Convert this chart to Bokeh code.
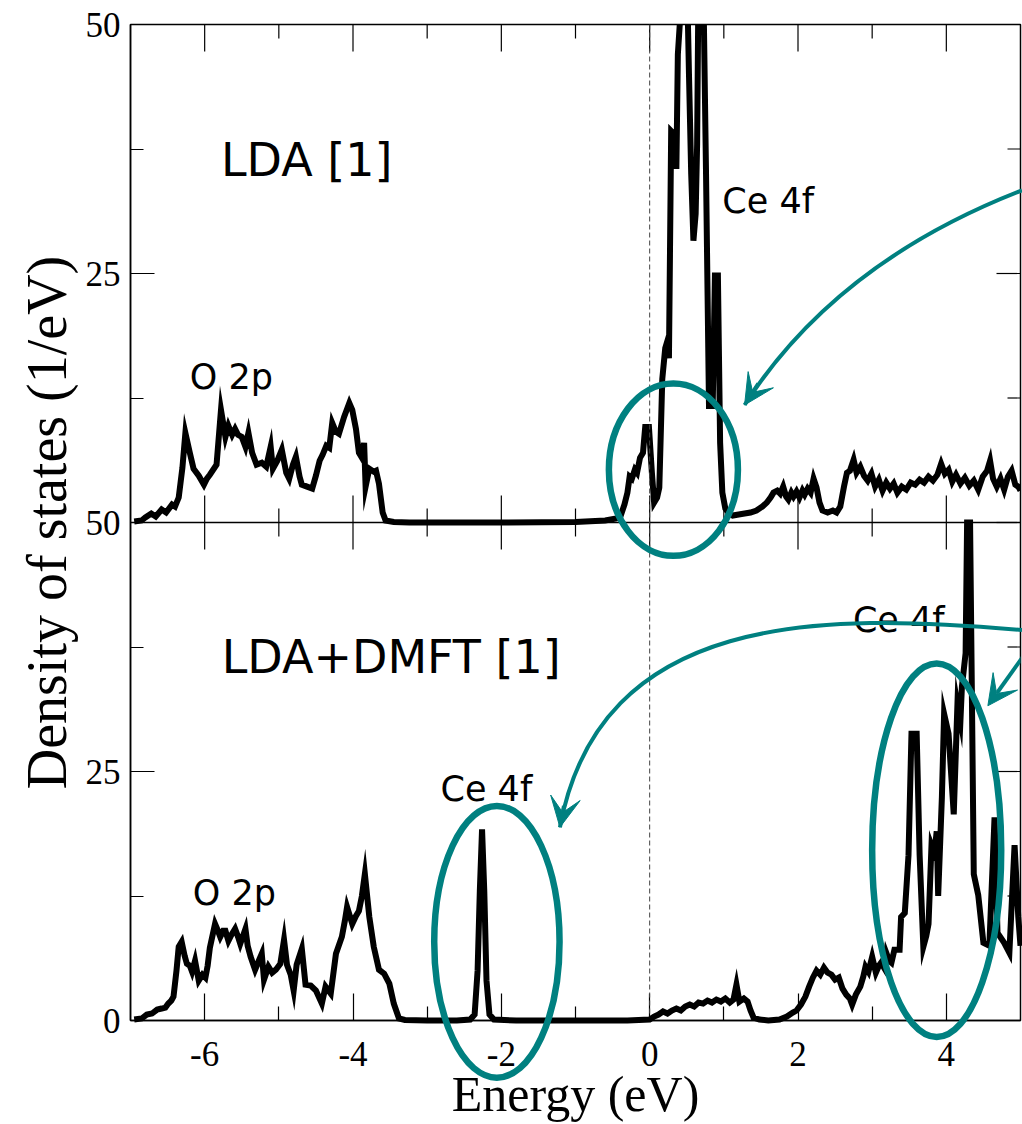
import numpy as np
from bokeh.plotting import figure
from bokeh.models import Range1d, FixedTicker, Span, Label, Arrow, VeeHead
from bokeh.embed import file_html
from bokeh.resources import INLINE

# ---------------- data ----------------
lda_x = [-6.95, -6.85, -6.80, -6.72, -6.66, -6.58, -6.52, -6.44, -6.40, -6.35, -6.30, -6.26,
         -6.20, -6.15, -6.08, -6.01, -5.97, -5.93, -5.84, -5.78, -5.72, -5.68, -5.63, -5.59,
         -5.55, -5.50, -5.45, -5.41, -5.36, -5.30, -5.23, -5.17, -5.11, -5.08, -5.02, -4.96,
         -4.90, -4.86, -4.81, -4.77, -4.72, -4.69, -4.62, -4.55, -4.50, -4.45, -4.41, -4.36,
         -4.32, -4.28, -4.23, -4.19, -4.12, -4.05, -4.01, -3.96, -3.92, -3.88, -3.85, -3.83,
         -3.78, -3.72, -3.69, -3.65, -3.60, -3.56, -3.45, -3.24, -3.0, -2.0, -1.0, -0.6,
         -0.45, -0.39, -0.34, -0.30, -0.27, -0.24, -0.20, -0.17, -0.13, -0.09, -0.06, -0.01,
         0.03, 0.06, 0.10, 0.13, 0.17, 0.21, 0.23, 0.26, 0.29, 0.33, 0.36, 0.38, 0.41, 0.45,
         0.50, 0.53, 0.56, 0.59, 0.62, 0.64, 0.66, 0.72, 0.76, 0.80, 0.85, 0.88, 0.92, 0.95,
         0.98, 1.02, 1.07, 1.12, 1.20, 1.28, 1.36, 1.44, 1.52, 1.58, 1.63, 1.67, 1.72, 1.76,
         1.80, 1.84, 1.87, 1.91, 1.94, 1.98, 2.02, 2.06, 2.09, 2.13, 2.17, 2.21, 2.25, 2.29,
         2.33, 2.40, 2.47, 2.52, 2.57, 2.62, 2.66, 2.70, 2.75, 2.79, 2.84, 2.89, 2.94, 2.99,
         3.04, 3.09, 3.14, 3.19, 3.24, 3.29, 3.34, 3.40, 3.46, 3.52, 3.58, 3.64, 3.70, 3.76,
         3.82, 3.88, 3.93, 3.98, 4.03, 4.08, 4.13, 4.19, 4.25, 4.31, 4.37, 4.43, 4.49, 4.55,
         4.59, 4.63, 4.68, 4.73, 4.78, 4.83, 4.88, 4.93, 4.97, 5.0]
lda_y = [0.1, 0.2, 0.5, 0.9, 0.6, 1.3, 1.0, 1.8, 1.6, 2.5, 5.5, 9.0,
         7.0, 5.4, 4.7, 3.8, 4.4, 4.8, 5.8, 11.3, 8.6, 9.7, 8.8, 9.4,
         8.8, 8.6, 7.6, 9.0, 7.0, 5.8, 6.0, 5.6, 7.6, 5.4, 6.2, 7.3,
         5.0, 4.4, 5.8, 6.6, 4.6, 3.8, 3.6, 3.4, 4.7, 6.2, 6.8, 7.7,
         7.5, 10.0, 9.1, 8.9, 10.6, 12.0, 11.3, 9.4, 7.0, 6.5, 8.0, 3.6,
         5.4, 5.1, 5.2, 3.9, 1.0, 0.2, 0.05, 0.0, 0.0, 0.0, 0.05, 0.2,
         0.4, 0.7, 1.8, 3.0, 4.6, 4.4, 5.3, 5.0, 6.5, 7.0, 9.6, 9.6,
         5.0, 2.0, 2.5, 3.5, 14.4, 17.5, 18.0, 16.5, 39.3, 39.0, 35.5, 47.0, 50.5, 56.0,
         56.0, 45.0, 35.0, 28.3, 31.0, 38.0, 56.0, 56.0, 35.0, 11.7, 11.7, 24.8, 24.8, 8.0,
         3.0, 1.4, 0.9, 0.7, 0.8, 0.9, 1.0, 1.2, 1.6, 2.0, 2.5, 3.0, 3.2, 2.9,
         3.6, 2.6, 2.3, 3.0, 2.6, 3.1, 2.5, 3.2, 2.8, 3.4, 3.0, 4.4, 3.5, 2.0,
         1.2, 1.0, 1.2, 1.0, 1.6, 3.6, 5.0, 5.2, 6.3, 5.0, 5.6, 4.7, 4.2, 4.9,
         3.6, 4.3, 3.2, 4.0, 3.4, 3.9, 3.0, 3.6, 3.3, 4.0, 3.8, 4.3, 4.0, 4.6,
         4.2, 4.8, 5.9, 4.9, 5.3, 4.1, 4.8, 3.9, 4.5, 3.7, 4.2, 3.3, 4.6, 5.2,
         6.2, 4.4, 3.6, 4.4, 3.3, 4.6, 5.2, 3.8, 3.6, 3.2]

dmft_x = [-6.95, -6.85, -6.78, -6.71, -6.64, -6.58, -6.53, -6.49, -6.45, -6.42, -6.38, -6.35,
          -6.31, -6.27, -6.24, -6.20, -6.17, -6.13, -6.08, -6.03, -5.99, -5.96, -5.93, -5.86,
          -5.82, -5.79, -5.75, -5.72, -5.68, -5.64, -5.59, -5.55, -5.52, -5.45, -5.42, -5.38,
          -5.32, -5.27, -5.23, -5.20, -5.14, -5.09, -5.04, -4.98, -4.93, -4.89, -4.84, -4.80,
          -4.76, -4.69, -4.64, -4.57, -4.50, -4.42, -4.37, -4.30, -4.23, -4.15, -4.11, -4.08,
          -4.01, -3.96, -3.92, -3.88, -3.84, -3.78, -3.72, -3.65, -3.58, -3.51, -3.45, -3.38,
          -3.30, -3.0, -2.6, -2.42, -2.36, -2.32, -2.29, -2.26, -2.23, -2.20, -2.16, -2.10,
          -1.8, -1.0, -0.3, 0.0, 0.06, 0.12, 0.18, 0.24, 0.30, 0.36, 0.42, 0.48, 0.54, 0.60,
          0.66, 0.72, 0.78, 0.84, 0.90, 0.96, 1.02, 1.08, 1.13, 1.17, 1.21, 1.27, 1.32, 1.36,
          1.40, 1.48, 1.60, 1.75, 1.85, 1.93, 1.98, 2.04, 2.10, 2.15, 2.20, 2.25, 2.30, 2.35,
          2.40, 2.45, 2.50, 2.55, 2.60, 2.65, 2.70, 2.73, 2.78, 2.84, 2.88, 2.91, 2.95, 3.00,
          3.05, 3.09, 3.12, 3.16, 3.19, 3.23, 3.26, 3.30, 3.37, 3.39, 3.44, 3.49, 3.53, 3.60,
          3.64, 3.69, 3.73, 3.76, 3.80, 3.84, 3.87, 3.89, 3.94, 3.97, 4.03, 4.10, 4.15, 4.19,
          4.21, 4.26, 4.28, 4.32, 4.37, 4.43, 4.50, 4.58, 4.65, 4.69, 4.78, 4.85, 4.92, 4.97,
          5.0]
dmft_y = [0.1, 0.2, 0.6, 0.7, 1.1, 1.2, 1.3, 1.7, 2.0, 2.4, 5.0, 7.4,
          7.9, 6.5, 5.7, 5.5, 4.9, 6.0, 4.0, 4.6, 4.3, 5.5, 7.3, 9.7,
          9.0, 8.4, 9.0, 9.0, 8.0, 8.6, 9.2, 8.4, 7.7, 9.2, 7.5, 6.4,
          5.1, 6.0, 6.7, 4.1, 5.4, 4.8, 5.1, 5.7, 8.1, 5.6, 4.6, 3.0,
          5.6, 7.2, 3.6, 3.5, 3.0, 1.7, 3.4, 2.7, 6.7, 8.4, 10.0, 11.4,
          9.7, 10.5, 11.0, 12.5, 14.7, 10.4, 7.4, 5.1, 4.7, 3.7, 1.7, 0.2,
          0.05, 0.0, 0.0, 0.1, 0.6, 5.0, 13.0, 19.2, 13.0, 4.0, 0.6, 0.1,
          0.0, 0.0, 0.0, 0.1, 0.4, 0.6, 0.9, 0.7, 1.0, 1.2, 1.0, 1.4, 1.6, 1.4,
          1.8, 1.7, 2.0, 1.8, 2.1, 1.9, 2.2, 1.8, 2.1, 3.6, 1.9, 2.2, 1.9, 1.0,
          0.3, 0.1, 0.0, 0.1, 0.4, 0.8, 1.0, 1.6, 2.4, 3.4, 4.3, 5.0, 4.6, 5.3,
          4.8, 4.6, 4.1, 4.3, 3.2, 2.6, 2.2, 1.6, 2.6, 3.4, 4.4, 5.4, 4.9, 6.4,
          4.8, 5.5, 5.8, 5.3, 6.8, 6.0, 5.8, 7.1, 7.1, 10.4, 10.8, 16.6, 28.8, 28.8,
          16.6, 7.4, 8.5, 9.7, 17.6, 16.8, 19.0, 12.5, 22.4, 30.8, 28.8, 20.7, 31.8, 30.1,
          33.5, 36.9, 55.0, 55.0, 14.7, 12.6, 7.8, 7.5, 20.4, 8.8, 7.8, 6.8, 17.6, 10.4,
          7.5]

x_ticks = [-6, -4, -2, 0, 2, 4]
x_tick_labels = ["-6", "-4", "-2", "0", "2", "4"]
x_minor = [-5, -3, -1, 1, 3]
y_ticks = [0, 25, 50, 75, 100]
y_tick_labels = ["0", "25", "50", "25", "50"]
y_minor = [12.5, 37.5, 62.5, 87.5]

PANEL = 50  # height of one panel in DOS units
TEAL = "#008080"

# ---------------- figure ----------------
p = figure(width=1022, height=1124, x_range=Range1d(-7, 5), y_range=Range1d(0, 2 * PANEL),
           output_backend="svg", toolbar_location=None,
           min_border_left=130, min_border_right=2, min_border_top=24, min_border_bottom=103)
p.grid.visible = False
p.outline_line_color = "black"
p.outline_line_width = 1.5
p.background_fill_color = "white"
p.border_fill_color = "white"

xa = p.xaxis[0]
xa.ticker = FixedTicker(ticks=x_ticks, minor_ticks=x_minor)
xa.major_label_overrides = {t: l for t, l in zip(x_ticks, x_tick_labels)}
xa.axis_label = "Energy (eV)"
xa.axis_label_text_font = "Liberation Serif"
xa.axis_label_text_font_size = "50px"
xa.axis_label_text_font_style = "normal"
xa.axis_label_text_color = "black"
xa.axis_label_standoff = -3
xa.major_label_text_font = "Liberation Serif"
xa.major_label_text_font_size = "35px"
xa.major_label_text_color = "black"
xa.major_label_standoff = 21
xa.major_tick_in = 27
xa.major_tick_out = 0
xa.minor_tick_in = 14
xa.minor_tick_out = 0
xa.axis_line_width = 1.5
xa.axis_line_color = "black"
xa.major_tick_line_width = 1.2
xa.minor_tick_line_width = 1.2
xa.major_tick_line_color = "black"
xa.minor_tick_line_color = "black"

ya = p.yaxis[0]
ya.ticker = FixedTicker(ticks=y_ticks, minor_ticks=y_minor)
ya.major_label_overrides = {t: l for t, l in zip(y_ticks, y_tick_labels)}
ya.axis_label = "Density of states (1/eV)"
ya.axis_label_text_font = "Liberation Serif"
ya.axis_label_text_font_size = "56px"
ya.axis_label_text_font_style = "normal"
ya.axis_label_text_color = "black"
ya.axis_label_standoff = 5
ya.major_label_text_font = "Liberation Serif"
ya.major_label_text_font_size = "35px"
ya.major_label_text_color = "black"
ya.major_label_standoff = 10
ya.major_tick_in = 24
ya.major_tick_out = 0
ya.minor_tick_in = 13
ya.minor_tick_out = 0
ya.axis_line_width = 1.5
ya.axis_line_color = "black"
ya.major_tick_line_width = 1.2
ya.minor_tick_line_width = 1.2
ya.major_tick_line_color = "black"
ya.minor_tick_line_color = "black"

# panel separator and Fermi level
p.add_layout(Span(location=PANEL, dimension="width", line_color="black", line_width=1.5))
p.add_layout(Span(location=0, dimension="height", line_color="#444444", line_width=1,
                  line_dash="5 3"))

# mirrored ticks (separator: both directions; top edge; right edge)
ypx = 997 / (2 * PANEL)   # px per DOS unit
xpx = 890 / 12.0          # px per eV
maj_len, min_len = 27 / ypx, 14 / ypx
for xs, ln in ((x_ticks, maj_len), (x_minor, min_len)):
    n = len(xs)
    p.segment(x0=xs, y0=[PANEL] * n, x1=xs, y1=[PANEL + ln] * n, line_color="black", line_width=1.2)
    p.segment(x0=xs, y0=[PANEL] * n, x1=xs, y1=[PANEL - ln] * n, line_color="black", line_width=1.2)
    p.segment(x0=xs, y0=[2 * PANEL] * n, x1=xs, y1=[2 * PANEL - ln] * n, line_color="black", line_width=1.2)
for ys, ln in ((y_ticks, 24 / xpx), (y_minor, 13 / xpx)):
    n = len(ys)
    p.segment(x0=[5] * n, y0=ys, x1=[5 - ln] * n, y1=ys, line_color="black", line_width=1.2)

# DOS curves
p.line(lda_x, np.array(lda_y) + PANEL, line_color="black", line_width=6, line_join="miter")
p.line(dmft_x, np.minimum(np.array(dmft_y), PANEL), line_color="black", line_width=6,
       line_join="miter", level="overlay")

# text annotations
def lab(x, y, t, size):
    p.add_layout(Label(x=x, y=y, text=t, text_font="DejaVu Sans", text_font_size=size,
                       text_color="black", text_align="left", text_baseline="alphabetic"))

lab(-5.78, 86.4, "LDA [1]", "46px")
lab(0.98, 82.3, "Ce 4f", "35px")
lab(-6.20, 64.6, "O 2p", "35px")
lab(-5.77, 36.5, "LDA+DMFT [1]", "46px")
lab(2.74, 40.2, "Ce 4f", "35px")
lab(-2.82, 23.2, "Ce 4f", "35px")
lab(-6.16, 12.8, "O 2p", "35px")

# ellipses
p.ellipse(x=[0.32, -2.06, 3.87], y=[55.3, 7.9, 17.1], width=[1.74, 1.69, 1.74],
          height=[17.3, 27.3, 37.5], fill_color=None, line_color=TEAL, line_width=6.5,
          level="overlay")

# curved arrows
p.quadratic(x0=[5.02], y0=[83.35], x1=[1.28], y1=[61.8], cx=[2.51], cy=[76.1],
            line_color=TEAL, line_width=4, level="overlay")
p.bezier(x0=[5.02], y0=[39.2], x1=[-1.21], y1=[19.4], cx0=[2.29], cy0=[41.0],
         cx1=[-0.67], cy1=[41.0], line_color=TEAL, line_width=4, level="overlay")

def head(xs, ys, xe, ye):
    p.add_layout(Arrow(end=VeeHead(size=30, fill_color=TEAL, line_color=TEAL, line_width=1),
                       x_start=xs, y_start=ys, x_end=xe, y_end=ye,
                       line_color=TEAL, line_width=4))

head(1.465, 63.95, 1.28, 61.8)
head(-1.156, 21.56, -1.21, 19.4)
head(5.03, 36.5, 4.56, 31.6)

open("out.html", "w").write(file_html(p, INLINE))
